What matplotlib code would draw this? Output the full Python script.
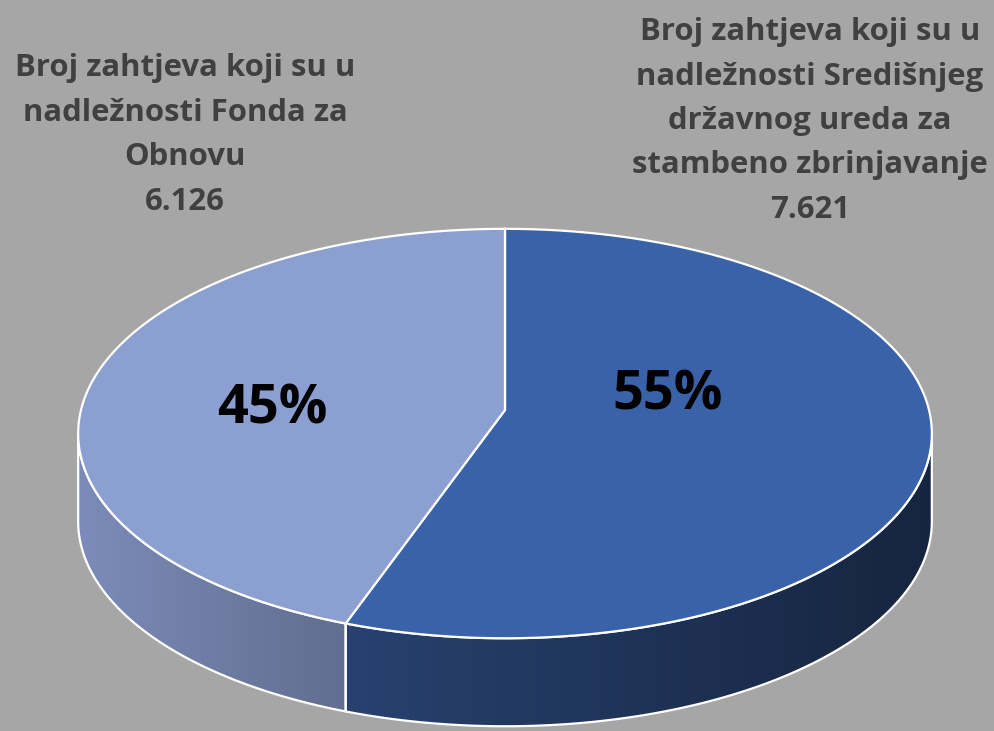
import numpy as np
import matplotlib
matplotlib.use("Agg")
import matplotlib.pyplot as plt
from matplotlib.patches import Polygon
from matplotlib.colors import LinearSegmentedColormap

# Data
categories = ["Broj zahtjeva koji su u\nnadležnosti Središnjeg\ndržavnog ureda za\nstambeno zbrinjavanje",
              "Broj zahtjeva koji su u\nnadležnosti Fonda za\nObnovu"]
values = [7621, 6126]
top_colors = ["#3a62a9", "#8c9fd1"]
side_colors = [("#28416f", "#16253f"), ("#7c8bb9", "#626e8f")]

bg = "#a6a6a6"
txt = "#404040"

# projection of the pie (pixel coordinates)
cx, cy = 505, 410
A, B, k = 424, 202, 0.115
depth = 88


def proj(theta):
    # theta measured clockwise from top, radians
    X = np.sin(theta)
    Y = -np.cos(theta)
    w = 1 - k * Y
    return cx + A * X / w, cy + B * Y / w


fig = plt.figure(figsize=(9.95, 7.31), dpi=100, facecolor=bg)
ax = fig.add_axes([0, 0, 1, 1])
ax.set_xlim(0, 995)
ax.set_ylim(731, 0)
ax.axis("off")
ax.set_facecolor(bg)

total = sum(values)
fracs = [v / total for v in values]
bounds = np.cumsum([0] + fracs) * 2 * np.pi

# visible front side goes from right extreme to left extreme
t_right = np.arccos(-k)
t_left = 2 * np.pi - t_right

for i in range(len(values)):
    a0, a1 = max(bounds[i], t_right), min(bounds[i + 1], t_left)
    if a1 <= a0:
        continue
    t = np.linspace(a0, a1, 200)
    x, y = proj(t)
    pts = np.concatenate([np.column_stack([x, y]),
                          np.column_stack([x[::-1], y[::-1] + depth])])
    poly = Polygon(pts, closed=True, facecolor="none", edgecolor="white", lw=1.6, zorder=3)
    ax.add_patch(poly)
    cmap = LinearSegmentedColormap.from_list("s%d" % i, side_colors[i])
    grad = np.linspace(0, 1, 256).reshape(1, -1)
    im = ax.imshow(grad, cmap=cmap, aspect="auto",
                   extent=[x.min(), x.max(), y.max() + depth, y.min()], zorder=2)
    clip = Polygon(pts, closed=True, transform=ax.transData)
    im.set_clip_path(clip)

ax.set_xlim(0, 995)
ax.set_ylim(731, 0)

# top face
for i in range(len(values)):
    t = np.linspace(bounds[i], bounds[i + 1], 300)
    x, y = proj(t)
    pts = np.vstack([[cx, cy], np.column_stack([x, y])])
    ax.add_patch(Polygon(pts, closed=True, facecolor=top_colors[i],
                         edgecolor="white", lw=1.6, zorder=4))

# percentage labels
pct_pos = [(668, 396), (272, 409)]
for v, (px, py) in zip(values, pct_pos):
    ax.text(px, py, "%d%%" % round(100 * v / total), ha="center", va="center",
            fontsize=39, fontweight="bold", color="black", family="Open Sans", zorder=5)

# category labels
cat_pos = [(810, 121), (185, 135)]
for c, v, (px, py) in zip(categories, values, cat_pos):
    s = c + "\n" + "{:,}".format(v).replace(",", ".")
    ax.text(px, py, s, ha="center", va="center", fontsize=22.4, fontweight="bold",
            color=txt, family="Open Sans", linespacing=1.63, zorder=5)

fig.savefig("out.png", dpi=100, facecolor=bg)
